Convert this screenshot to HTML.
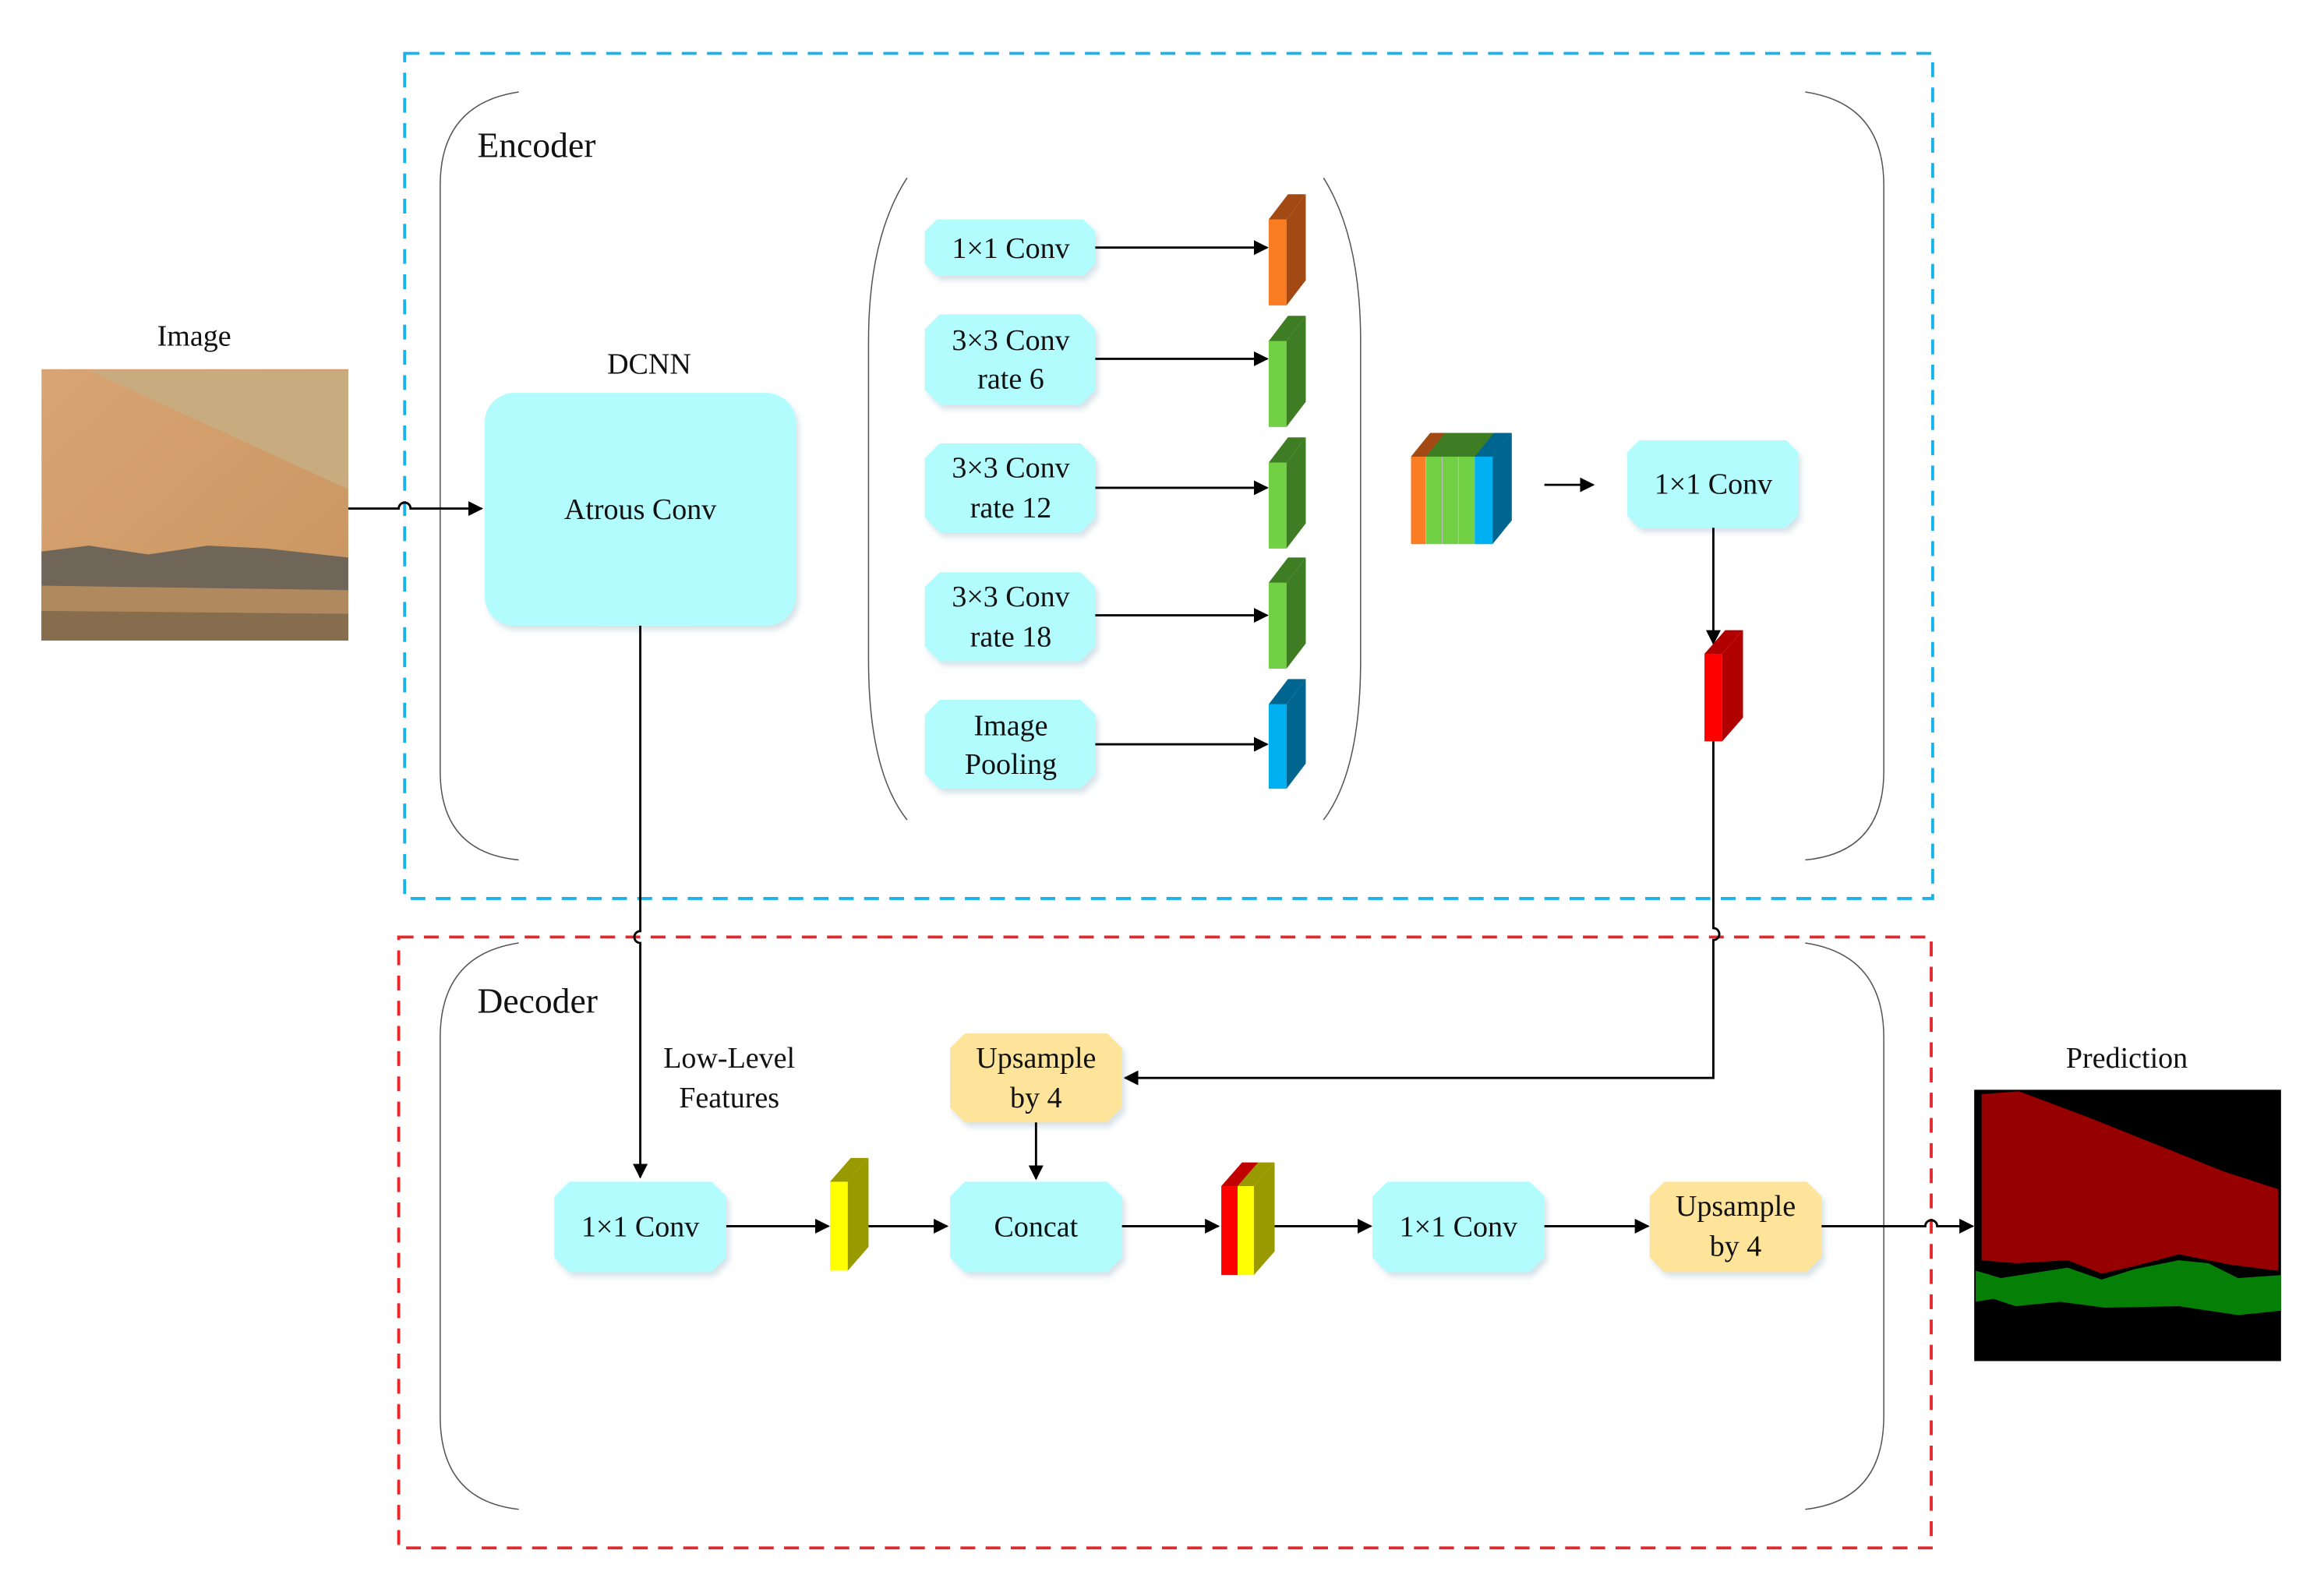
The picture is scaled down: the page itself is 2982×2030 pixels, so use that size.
<!DOCTYPE html>
<html><head><meta charset="utf-8"><style>
html,body{margin:0;padding:0;background:#fff;}
svg{display:block;}
text{font-family:"Liberation Serif",serif;fill:#111;}
</style></head><body>
<svg width="2982" height="2030" viewBox="0 0 1568 1067" preserveAspectRatio="none" xmlns="http://www.w3.org/2000/svg">
<defs>
<marker id="ar" markerWidth="10" markerHeight="10" refX="9" refY="5" orient="auto" markerUnits="userSpaceOnUse">
<path d="M0,0 L10,5 L0,10 Z" fill="#000"/></marker>
<filter id="sh" x="-10%" y="-10%" width="130%" height="130%"><feDropShadow dx="2" dy="3" stdDeviation="2" flood-color="#8ab" flood-opacity="0.35"/></filter>
<linearGradient id="sand" x1="0" y1="0" x2="1" y2="1"><stop offset="0" stop-color="#d9a474"/><stop offset="1" stop-color="#c8955f"/></linearGradient>
</defs>

<!-- dashed frames -->
<rect x="273" y="36" width="1031" height="570" fill="none" stroke="#18b2ec" stroke-width="2" stroke-dasharray="10,7"/>
<rect x="269" y="632" width="1034" height="412" fill="none" stroke="#e8262a" stroke-width="2" stroke-dasharray="10,7"/>

<!-- bracket outlines -->
<g fill="none" stroke="#555" stroke-width="0.8">
<path d="M350,62 Q297,70 297,125 L297,520 Q297,575 350,580"/>
<path d="M1218,62 Q1271,70 1271,125 L1271,520 Q1271,575 1218,580"/>
<path d="M612,120 Q586,160 586,230 L586,445 Q586,520 612,553"/>
<path d="M893,120 Q918,160 918,230 L918,445 Q918,520 893,553"/>
<path d="M350,636 Q297,644 297,700 L297,955 Q297,1012 350,1018"/>
<path d="M1218,636 Q1271,644 1271,700 L1271,955 Q1271,1012 1218,1018"/>
</g>

<text x="322" y="106" font-size="24">Encoder</text>
<text x="322" y="683" font-size="24">Decoder</text>

<!-- Image -->
<text x="131" y="233" font-size="20" text-anchor="middle">Image</text>
<rect x="28" y="249" width="207" height="183" fill="url(#sand)"/>
<polygon points="60,250 235,250 235,330" fill="#c9ab80"/>
<polygon points="28,372 60,368 100,374 140,368 180,370 235,376 235,432 28,432" fill="#6f6558"/>
<polygon points="28,395 235,398 235,432 28,432" fill="#b08a5e"/>
<polygon points="28,412 235,414 235,432 28,432" fill="#6b5a44" opacity="0.6"/>

<!-- input arrow with hop -->
<path d="M235,343 L269,343 A4,4 0 0 1 277,343 L325,343" fill="none" stroke="#000" stroke-width="1.5" marker-end="url(#ar)"/>

<!-- DCNN -->
<text x="438" y="252" font-size="20" text-anchor="middle">DCNN</text>
<rect x="327" y="265" width="210" height="157" rx="20" fill="#b3fcfd" filter="url(#sh)"/>
<text x="432" y="350" font-size="20" text-anchor="middle">Atrous Conv</text>

<!-- ASPP boxes -->
<g fill="#b3fcfd" filter="url(#sh)">
<polygon points="632,148 731,148 739,156 739,178 731,186 632,186 624,178 624,156"/>
<polygon points="634,212 729,212 739,222 739,263 729,273 634,273 624,263 624,222"/>
<polygon points="634,299 729,299 739,309 739,349 729,359 634,359 624,349 624,309"/>
<polygon points="634,386 729,386 739,396 739,436 729,446 634,446 624,436 624,396"/>
<polygon points="634,472 729,472 739,482 739,522 729,532 634,532 624,522 624,482"/>
</g>
<g font-size="20" text-anchor="middle">
<text x="682" y="174">1×1 Conv</text>
<text x="682" y="236">3×3 Conv</text><text x="682" y="262">rate 6</text>
<text x="682" y="322">3×3 Conv</text><text x="682" y="349">rate 12</text>
<text x="682" y="409">3×3 Conv</text><text x="682" y="436">rate 18</text>
<text x="682" y="496">Image</text><text x="682" y="522">Pooling</text>
</g>
<g stroke="#000" stroke-width="1.5" marker-end="url(#ar)">
<line x1="739" y1="167" x2="855" y2="167"/>
<line x1="739" y1="242" x2="855" y2="242"/>
<line x1="739" y1="329" x2="855" y2="329"/>
<line x1="739" y1="415" x2="855" y2="415"/>
<line x1="739" y1="502" x2="855" y2="502"/>
</g>
<!-- cubes -->
<g>
<rect x="856" y="148" width="12" height="58" fill="#fb7d23"/><polygon points="868,148 881,131 881,189 868,206" fill="#a34a14"/><polygon points="856,148 869,131 881,131 868,148" fill="#a34a14"/>
<rect x="856" y="230" width="12" height="58" fill="#72d044"/><polygon points="868,230 881,213 881,271 868,288" fill="#3f7d24"/><polygon points="856,230 869,213 881,213 868,230" fill="#3f7d24"/>
<rect x="856" y="312" width="12" height="58" fill="#72d044"/><polygon points="868,312 881,295 881,353 868,370" fill="#3f7d24"/><polygon points="856,312 869,295 881,295 868,312" fill="#3f7d24"/>
<rect x="856" y="393" width="12" height="58" fill="#72d044"/><polygon points="868,393 881,376 881,434 868,451" fill="#3f7d24"/><polygon points="856,393 869,376 881,376 868,393" fill="#3f7d24"/>
<rect x="856" y="475" width="12" height="57" fill="#00b0f0"/><polygon points="868,475 881,458 881,515 868,532" fill="#006690"/><polygon points="856,475 869,458 881,458 868,475" fill="#006690"/>
</g>
<!-- concat stack -->
<g>
<polygon points="952,308 965,292 1020,292 1007,308" fill="#3f7d24"/>
<polygon points="952,308 965,292 975,292 962,308" fill="#a34a14"/>
<polygon points="995,308 1008,292 1020,292 1007,308" fill="#006690"/>
<rect x="952" y="308" width="10" height="59" fill="#fb7d23"/>
<rect x="962" y="308" width="11" height="59" fill="#72d044"/>
<rect x="973" y="308" width="11" height="59" fill="#72d044"/>
<rect x="984" y="308" width="11" height="59" fill="#72d044"/>
<rect x="995" y="308" width="12" height="59" fill="#00b0f0"/>
<polygon points="1007,308 1020,292 1020,351 1007,367" fill="#006690"/>
<g stroke="#bbb" stroke-width="0.6"><line x1="962" y1="308" x2="962" y2="367"/><line x1="973" y1="308" x2="973" y2="367"/><line x1="984" y1="308" x2="984" y2="367"/></g>
</g>
<line x1="1042" y1="327" x2="1075" y2="327" stroke="#000" stroke-width="1.5" marker-end="url(#ar)"/>
<polygon points="1106,297 1205,297 1213,305 1213,348 1205,356 1106,356 1098,348 1098,305" fill="#b3fcfd" filter="url(#sh)"/>
<text x="1156" y="333" font-size="20" text-anchor="middle">1×1 Conv</text>
<line x1="1156" y1="356" x2="1156" y2="434" stroke="#000" stroke-width="1.5" marker-end="url(#ar)"/>
<rect x="1150" y="441" width="12" height="59" fill="#fe0000"/><polygon points="1162,441 1176,425 1176,484 1162,500" fill="#b10000"/><polygon points="1150,441 1164,425 1176,425 1162,441" fill="#b10000"/>
<path d="M1156,500 L1156,626 A4,4 0 0 1 1156,634 L1156,727 L759,727" fill="none" stroke="#000" stroke-width="1.5" marker-end="url(#ar)"/>

<!-- DCNN down line -->
<path d="M432,422 L432,628 A4,4 0 0 0 432,636 L432,794" fill="none" stroke="#000" stroke-width="1.5" marker-end="url(#ar)"/>
<text x="492" y="720" font-size="20" text-anchor="middle">Low-Level</text>
<text x="492" y="747" font-size="20" text-anchor="middle">Features</text>

<!-- decoder boxes -->
<polygon points="651,697 747,697 757,707 757,747 747,757 651,757 641,747 641,707" fill="#fde49a" filter="url(#sh)"/>
<text x="699" y="720" font-size="20" text-anchor="middle">Upsample</text><text x="699" y="747" font-size="20" text-anchor="middle">by 4</text>
<line x1="699" y1="757" x2="699" y2="795" stroke="#000" stroke-width="1.5" marker-end="url(#ar)"/>

<g filter="url(#sh)">
<polygon points="384,797 480,797 490,807 490,848 480,858 384,858 374,848 374,807" fill="#b3fcfd"/>
<polygon points="651,797 747,797 757,807 757,848 747,858 651,858 641,848 641,807" fill="#b3fcfd"/>
<polygon points="936,797 1032,797 1042,807 1042,848 1032,858 936,858 926,848 926,807" fill="#b3fcfd"/>
<polygon points="1123,797 1219,797 1229,807 1229,848 1219,858 1123,858 1113,848 1113,807" fill="#fde49a"/>
</g>
<g font-size="20" text-anchor="middle">
<text x="432" y="834">1×1 Conv</text>
<text x="699" y="834">Concat</text>
<text x="984" y="834">1×1 Conv</text>
<text x="1171" y="820">Upsample</text><text x="1171" y="847">by 4</text>
</g>
<rect x="560" y="797" width="12" height="60" fill="#ffff00"/><polygon points="572,797 586,781 586,841 572,857" fill="#999900"/><polygon points="560,797 574,781 586,781 572,797" fill="#999900"/>
<rect x="824" y="800" width="11" height="60" fill="#fe0000"/><rect x="835" y="800" width="11" height="60" fill="#ffff00"/>
<polygon points="846,800 860,784 860,844 846,860" fill="#999900"/><polygon points="824,800 838,784 849,784 835,800" fill="#c00000"/><polygon points="835,800 849,784 860,784 846,800" fill="#999900"/>

<g stroke="#000" stroke-width="1.5" marker-end="url(#ar)" fill="none">
<line x1="490" y1="827" x2="559" y2="827"/>
<line x1="586" y1="827" x2="639" y2="827"/>
<line x1="757" y1="827" x2="822" y2="827"/>
<line x1="860" y1="827" x2="925" y2="827"/>
<line x1="1042" y1="827" x2="1112" y2="827"/>
<path d="M1229,827 L1299,827 A4,4 0 0 1 1307,827 L1331,827"/>
</g>

<!-- prediction -->
<text x="1435" y="720" font-size="20" text-anchor="middle">Prediction</text>
<rect x="1332" y="735" width="207" height="183" fill="#000"/>
<polygon points="1337,738 1362,736 1410,754 1500,790 1537,802 1537,857 1505,853 1470,846 1440,854 1418,859 1395,850 1360,852 1337,850" fill="#960000"/>
<polygon points="1333,857 1350,862 1395,855 1418,863 1440,856 1470,850 1490,852 1510,862 1539,860 1539,884 1510,887 1470,881 1420,882 1390,878 1360,881 1345,876 1333,878" fill="#057f05"/>
</svg>
</body></html>
